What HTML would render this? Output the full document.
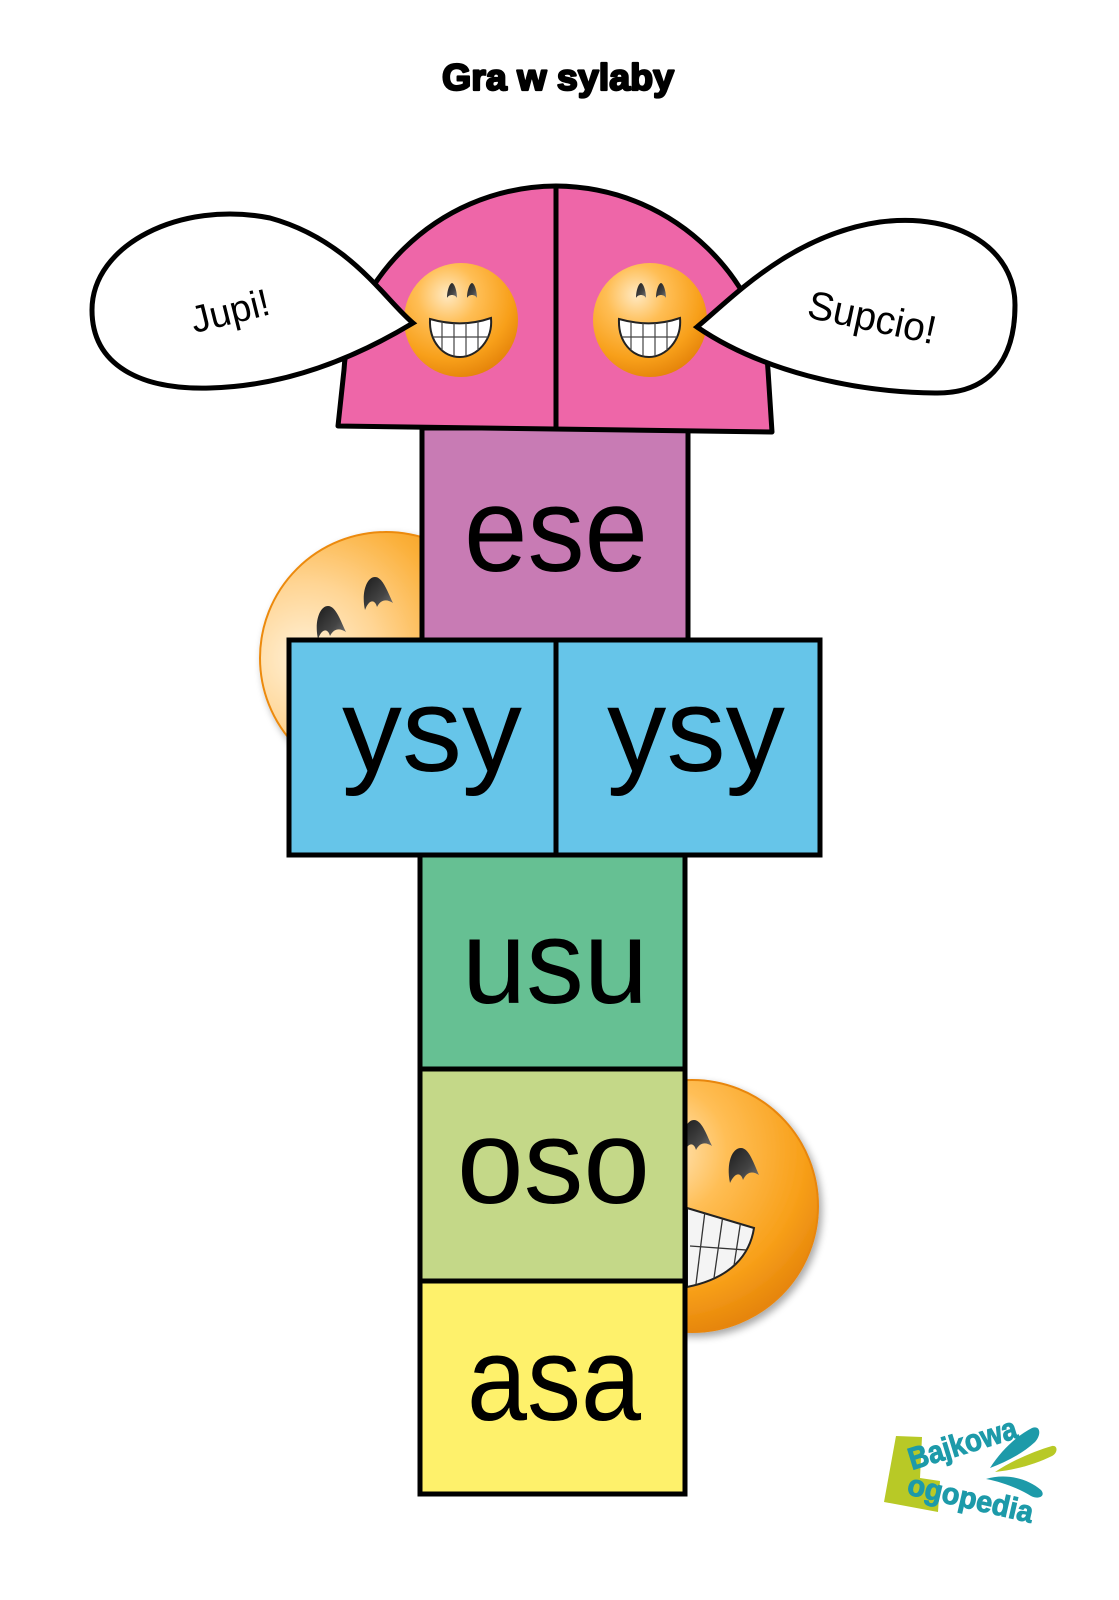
<!DOCTYPE html>
<html>
<head>
<meta charset="utf-8">
<style>
  html,body{margin:0;padding:0;background:#fff;}
  body{width:1119px;height:1600px;overflow:hidden;}
  svg{display:block;}
  .syl{font-family:"Liberation Sans",sans-serif;font-size:120px;fill:#000;}
</style>
</head>
<body>
<svg width="1119" height="1600" viewBox="0 0 1119 1600" xmlns="http://www.w3.org/2000/svg">
  <defs>
    <radialGradient id="smA" cx="0.38" cy="0.28" r="0.75">
      <stop offset="0" stop-color="#ffe9c2"/>
      <stop offset="0.35" stop-color="#ffbe55"/>
      <stop offset="0.75" stop-color="#f8a01a"/>
      <stop offset="1" stop-color="#e5840a"/>
    </radialGradient>
    <radialGradient id="smL" cx="0.18" cy="0.5" r="0.85">
      <stop offset="0" stop-color="#fff1d8"/>
      <stop offset="0.35" stop-color="#ffd594"/>
      <stop offset="0.7" stop-color="#fbb03a"/>
      <stop offset="1" stop-color="#f0930f"/>
    </radialGradient>
    <linearGradient id="eyeG" x1="0" y1="0" x2="1" y2="1">
      <stop offset="0" stop-color="#1c1c1c"/>
      <stop offset="0.6" stop-color="#444"/>
      <stop offset="1" stop-color="#7a7a7a"/>
    </linearGradient>
    <filter id="shd" x="-20%" y="-20%" width="140%" height="140%">
      <feGaussianBlur in="SourceAlpha" stdDeviation="4"/>
      <feOffset dx="3" dy="4" result="b"/>
      <feComponentTransfer><feFuncA type="linear" slope="0.35"/></feComponentTransfer>
      <feMerge><feMergeNode/><feMergeNode in="SourceGraphic"/></feMerge>
    </filter>
    <clipPath id="mouthL"><path d="M-31,-1 C-10,5 10,5 30,-2 C32,20 16,37 -1,37 C-18,37 -32,22 -31,-1 Z"/></clipPath>
    <clipPath id="bigR"><path d="M687,1208 L754,1228 C750,1254 732,1278 687,1287 Z"/></clipPath>
  </defs>

  <!-- Title -->
  <text x="442" y="90" textLength="232" lengthAdjust="spacingAndGlyphs"
        font-family="Liberation Sans, sans-serif" font-weight="bold" font-size="37"
        stroke="#000" stroke-width="2.2" stroke-linejoin="round" fill="#000">Gra w sylaby</text>

  <!-- Big left smiley (behind) -->
  <circle cx="386" cy="658" r="126" fill="url(#smL)" stroke="#ec8a10" stroke-width="2" filter="url(#shd)"/>
  <g fill="url(#eyeG)">
    <path transform="translate(316,606)" d="M2,33 C-2,15 4,0 12,0 C20,0 25,16 30,26 C24,22 18,22 14,30 C12,22 6,22 2,33 Z"/>
    <path transform="translate(363,577)" d="M2,33 C-2,15 4,0 12,0 C20,0 25,16 30,26 C24,22 18,22 14,30 C12,22 6,22 2,33 Z"/>
  </g>

  <!-- Big right smiley (behind) -->
  <circle cx="692" cy="1206" r="126" fill="url(#smA)" stroke="#e8860b" stroke-width="2" filter="url(#shd)"/>
  <g fill="url(#eyeG)">
    <path transform="translate(682,1120)" d="M2,33 C-2,15 4,0 12,0 C20,0 25,16 30,26 C24,22 18,22 14,30 C12,22 6,22 2,33 Z"/>
    <path transform="translate(728,1148)" d="M2,35 C-2,15 4,0 13,0 C21,0 26,16 31,27 C25,23 19,23 15,32 C13,24 7,24 2,35 Z"/>
  </g>
  <path d="M687,1208 L754,1228 C750,1254 732,1278 687,1287 Z" fill="#f4f4f4" stroke="#222" stroke-width="2"/>
  <g clip-path="url(#bigR)" stroke="#333" stroke-width="1.3" fill="none">
    <path d="M690,1246 L760,1251"/>
    <path d="M706,1203 L695,1292"/>
    <path d="M724,1208 L712,1292"/>
    <path d="M742,1213 L730,1292"/>
  </g>

  <!-- ese box -->
  <rect x="422" y="428" width="266" height="212" fill="#c87bb4" stroke="#000" stroke-width="5"/>
  <!-- ysy boxes -->
  <rect x="289" y="640" width="531" height="215" fill="#66c5e9" stroke="#000" stroke-width="5"/>
  <line x1="556" y1="640" x2="556" y2="855" stroke="#000" stroke-width="5"/>
  <!-- usu -->
  <rect x="420" y="855" width="265" height="214" fill="#66c093" stroke="#000" stroke-width="5"/>
  <!-- oso -->
  <rect x="420" y="1069" width="265" height="212" fill="#c4d888" stroke="#000" stroke-width="5"/>
  <!-- asa -->
  <rect x="420" y="1281" width="265" height="213" fill="#fef16b" stroke="#000" stroke-width="5"/>

  <!-- Syllables -->
  <text class="syl" x="464" y="571" textLength="184" lengthAdjust="spacingAndGlyphs">ese</text>
  <text class="syl" x="342" y="771" textLength="180" lengthAdjust="spacingAndGlyphs">ysy</text>
  <text class="syl" x="607" y="771" textLength="178" lengthAdjust="spacingAndGlyphs">ysy</text>
  <text class="syl" x="462" y="1003" textLength="186" lengthAdjust="spacingAndGlyphs">usu</text>
  <text class="syl" x="457" y="1203" textLength="193" lengthAdjust="spacingAndGlyphs">oso</text>
  <text class="syl" x="467" y="1420" textLength="174" lengthAdjust="spacingAndGlyphs">asa</text>

  <!-- Dome -->
  <path d="M338,426 L344,370 C348,290 430,187 556,186 C682,187 764,290 768,370 L772,432 Z"
        fill="#ee66a8" stroke="#000" stroke-width="5" stroke-linejoin="round"/>
  <line x1="556" y1="186" x2="556" y2="429" stroke="#000" stroke-width="5"/>

  <!-- Small smileys in dome -->
  <g transform="translate(461,320)">
    <circle r="57" fill="url(#smA)"/>
    <path d="M-14,-22 C-14,-30 -11,-37 -9,-37 C-7,-37 -4,-30 -4,-22 C-6,-26 -12,-26 -14,-22 Z" fill="url(#eyeG)"/>
    <path d="M6,-22 C6,-30 9,-37 11,-37 C13,-37 16,-30 16,-22 C14,-26 8,-26 6,-22 Z" fill="url(#eyeG)"/>
    <path d="M-31,-1 C-10,5 10,5 30,-2 C32,20 16,37 -1,37 C-18,37 -32,22 -31,-1 Z" fill="#fff" stroke="#222" stroke-width="2"/>
    <g clip-path="url(#mouthL)" stroke="#444" stroke-width="1.2">
      <line x1="-32" y1="17" x2="32" y2="17"/>
      <line x1="-19" y1="-5" x2="-19" y2="40"/>
      <line x1="-7" y1="-5" x2="-7" y2="40"/>
      <line x1="5" y1="-5" x2="5" y2="40"/>
      <line x1="17" y1="-5" x2="17" y2="40"/>
    </g>
  </g>
  <g transform="translate(650,320)">
    <circle r="57" fill="url(#smA)"/>
    <path d="M-14,-22 C-14,-30 -11,-37 -9,-37 C-7,-37 -4,-30 -4,-22 C-6,-26 -12,-26 -14,-22 Z" fill="url(#eyeG)"/>
    <path d="M6,-22 C6,-30 9,-37 11,-37 C13,-37 16,-30 16,-22 C14,-26 8,-26 6,-22 Z" fill="url(#eyeG)"/>
    <path d="M-31,-1 C-10,5 10,5 30,-2 C32,20 16,37 -1,37 C-18,37 -32,22 -31,-1 Z" fill="#fff" stroke="#222" stroke-width="2"/>
    <g clip-path="url(#mouthL)" stroke="#444" stroke-width="1.2">
      <line x1="-32" y1="17" x2="32" y2="17"/>
      <line x1="-19" y1="-5" x2="-19" y2="40"/>
      <line x1="-7" y1="-5" x2="-7" y2="40"/>
      <line x1="5" y1="-5" x2="5" y2="40"/>
      <line x1="17" y1="-5" x2="17" y2="40"/>
    </g>
  </g>

  <!-- Speech bubbles -->
  <path d="M413,323 C385,300 350,240 270,218 C180,200 92,245 92,310 C92,365 140,390 210,388 C290,386 360,355 413,323 Z"
        fill="#fff" stroke="#000" stroke-width="5" stroke-linejoin="miter"/>
  <path d="M697,327 C730,300 790,235 880,222 C960,212 1015,250 1015,305 C1015,365 985,394 935,393 C850,392 760,370 697,327 Z"
        fill="#fff" stroke="#000" stroke-width="5" stroke-linejoin="miter"/>
  <text x="230" y="324" text-anchor="middle" transform="rotate(-14 230 311)"
        font-family="Liberation Sans, sans-serif" font-size="38" textLength="80" lengthAdjust="spacingAndGlyphs" fill="#000">Jupi!</text>
  <text x="872" y="331" text-anchor="middle" transform="rotate(12 872 318)"
        font-family="Liberation Sans, sans-serif" font-size="40" textLength="130" lengthAdjust="spacingAndGlyphs" fill="#000">Supcio!</text>

  <!-- Logo -->
  <g>
    <path d="M896,1436 L922,1437 L920,1478 L940,1481 L938,1512 L884,1502 Z" fill="#b8c926"/>
    <path d="M990,1468 C1000,1452 1016,1436 1032,1428 C1040,1425 1042,1434 1035,1442 C1022,1454 1006,1462 990,1468 Z" fill="#1d9aa9"/>
    <path d="M995,1472 C1013,1460 1035,1451 1052,1446 C1058,1445 1058,1453 1052,1456 C1036,1464 1015,1470 995,1472 Z" fill="#b8c926"/>
    <path d="M986,1479 C1005,1473 1027,1478 1041,1490 C1046,1496 1039,1500 1031,1496 C1018,1488 1002,1482 986,1479 Z" fill="#1d9aa9"/>
    <text x="912" y="1470" transform="rotate(-17 912 1470)" font-family="Liberation Sans, sans-serif" font-weight="bold"
          font-size="31" textLength="112" lengthAdjust="spacingAndGlyphs" fill="#1d9aa9" stroke="#1d9aa9" stroke-width="1">Bajkowa</text>
    <text x="906" y="1494" transform="rotate(13 906 1494)" font-family="Liberation Sans, sans-serif" font-weight="bold"
          font-size="30" textLength="128" lengthAdjust="spacingAndGlyphs" fill="#1d9aa9" stroke="#1d9aa9" stroke-width="1">ogopedia</text>
  </g>
</svg>
</body>
</html>
